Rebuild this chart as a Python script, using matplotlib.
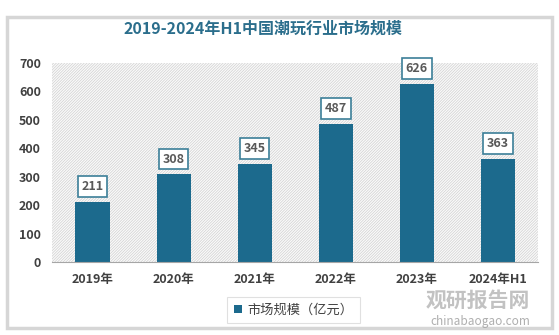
import matplotlib.pyplot as plt
import matplotlib as mpl
from matplotlib.patches import FancyBboxPatch, Rectangle

plt.rcParams['font.family'] = ['Noto Sans CJK SC', 'DejaVu Sans']
mpl.rcParams['hatch.linewidth'] = 0.5

years = ["2019年", "2020年", "2021年", "2022年", "2023年", "2024年H1"]
values = [211, 308, 345, 487, 626, 363]
title = "2019-2024年H1中国潮玩行业市场规模"
legend_label = "市场规模（亿元）"

bar_color = "#1c6a8d"
text_color = "#404040"

fig = plt.figure(figsize=(5.59, 3.35), dpi=100)

# card background with soft border
card = FancyBboxPatch((0.012, 0.02), 0.975, 0.93, boxstyle="square,pad=0",
                      transform=fig.transFigure, facecolor="white",
                      edgecolor="#d6d6d6", linewidth=2.5, zorder=-5)
fig.patches.append(card)

ax = fig.add_axes([0.093, 0.218, 0.87, 0.594])
ax.set_facecolor("none")
ax.add_patch(Rectangle((0, 0), 1, 1, transform=ax.transAxes, facecolor="#fafafa",
                       edgecolor="#d0d0d0", hatch="////////////", linewidth=0, zorder=0))

x = range(len(years))
bars = ax.bar(x, values, width=0.42, color=bar_color, zorder=3)
for xi, v in zip(x, values):
    ax.annotate(str(v), (xi, v), xytext=(0, 11), textcoords="offset points",
                ha="center", va="center", fontsize=9, fontweight="bold",
                color="#595959",
                bbox=dict(boxstyle="square,pad=0.3", facecolor="white",
                          edgecolor="#3c7f98", linewidth=1.2), zorder=5)

ax.set_xlim(-0.5, 5.5)
ax.set_ylim(0, 700)
ax.set_yticks(range(0, 701, 100))
ax.set_xticks(list(x))
ax.set_xticklabels(years)
ax.tick_params(length=0, labelsize=9, colors=text_color, pad=8)
for lbl in ax.get_xticklabels() + ax.get_yticklabels():
    lbl.set_fontweight("bold")
for s in ["left", "right", "top"]:
    ax.spines[s].set_visible(False)
ax.spines["bottom"].set_color("#a6a6a6")
ax.spines["bottom"].set_zorder(4)

fig.text(0.47, 0.915, title, ha="center", va="center", fontsize=11.5,
         fontweight="bold", color="#2b6e8c")

# legend
leg = ax.legend([bars], [legend_label], loc="center", bbox_to_anchor=(0.525, 0.075),
                bbox_transform=fig.transFigure, frameon=True, fontsize=9.5,
                handlelength=0.6, handleheight=0.6, handletextpad=0.4,
                fancybox=False, borderpad=0.5)
leg.get_frame().set_edgecolor("#d9d9d9")
leg.get_frame().set_linewidth(0.8)
for t in leg.get_texts():
    t.set_color(text_color)

# watermark
fig.text(0.855, 0.105, "观研报告网", ha="center", va="center", fontsize=15,
         fontweight="bold", color="#b3b3b3", alpha=0.8)
fig.text(0.86, 0.04, "chinabaogao.com", ha="center", va="center", fontsize=8.5,
         color="#a6a6a6", alpha=0.9)

fig.savefig("out.png", dpi=100)
